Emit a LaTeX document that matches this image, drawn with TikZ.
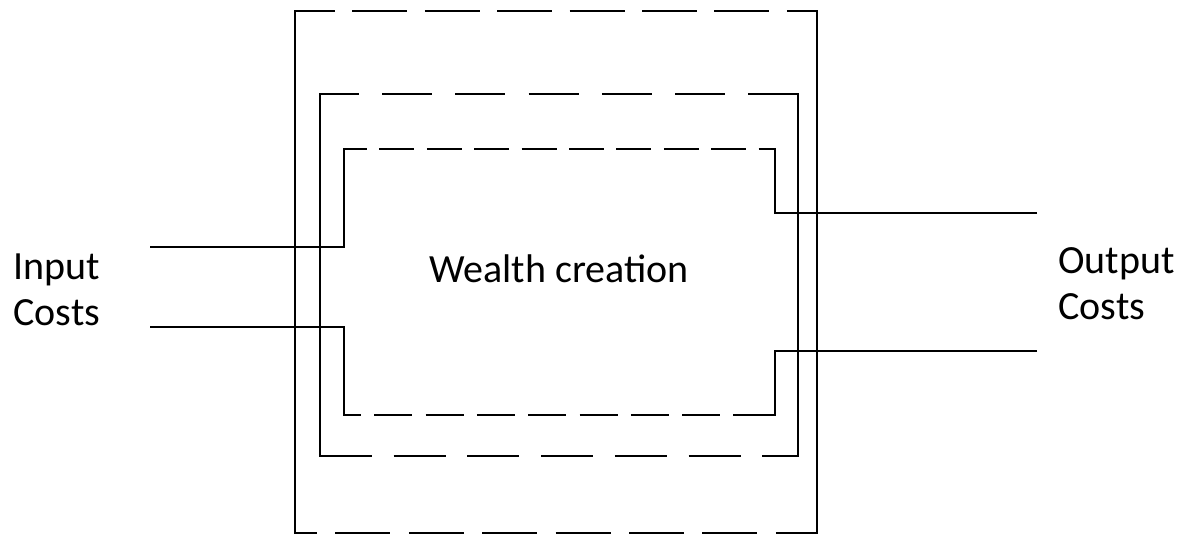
\documentclass[tikz,border=0pt]{standalone}
\usepackage{fontspec}
\setmainfont{Carlito}

\begin{document}
\begin{tikzpicture}[x=1pt,y=-1pt,line width=2.8pt,line join=miter,
    every node/.style={font=\fontsize{40}{46}\selectfont,inner sep=0pt,align=left},
    dashedge/.style n args={3}{dash pattern=on #1pt off #2pt,dash phase=#3pt}]
    \useasboundingbox (0,0) rectangle (1180,535);

    % corners of the three boxes
    \coordinate (otl) at (295,11);   \coordinate (otr) at (817,11);
    \coordinate (obl) at (295,533);  \coordinate (obr) at (817,533);
    \coordinate (mtl) at (320,94);   \coordinate (mtr) at (798,94);
    \coordinate (mbl) at (320,456);  \coordinate (mbr) at (798,456);
    \coordinate (itl) at (344,149);  \coordinate (itr) at (775,149);
    \coordinate (ibl) at (344,415);  \coordinate (ibr) at (775,415);

    % where the cost lines pass through
    \coordinate (inA)  at (150,247);  \coordinate (inAx)  at (344,247);
    \coordinate (inB)  at (150,327);  \coordinate (inBx)  at (344,327);
    \coordinate (outA) at (1037,213); \coordinate (outAx) at (775,213);
    \coordinate (outB) at (1037,351); \coordinate (outBx) at (775,351);

    \node[anchor=north west] (input) at (12,252) {Input\\Costs};
    \node[anchor=north west] (output) at (1057,246) {Output\\Costs};
    \node[anchor=base] (wealth) at (559,282) {Wealth creation};

    % outer box
    \draw[dashedge={55}{17.4}{15}] (otl) -- (otr);
    \draw[dashedge={55}{18.4}{33}] (obl) -- (obr);
    \draw ([xshift=12pt]otl) -- (otl) -- (obl) -- ([xshift=12pt]obl);
    \draw ([xshift=-12pt]otr) -- (otr) -- (obr) -- ([xshift=-12pt]obr);

    % middle box
    \draw[dashedge={50}{23.2}{11}] (mtl) -- (mtr);
    \draw[dashedge={52}{21.7}{0}] (mbl) -- (mbr);
    \draw ([xshift=12pt]mtl) -- (mtl) -- (mbl) -- ([xshift=12pt]mbl);
    \draw ([xshift=-12pt]mtr) -- (mtr) -- (mbr) -- ([xshift=-12pt]mbr);

    % inner box with the cost lines
    \draw[dashedge={35}{12.4}{12}] (itl) -- (itr);
    \draw[dashedge={38}{13.3}{21}] (ibl) -- (ibr);
    \draw (inA) -- (inAx) -- (itl) -- ([xshift=10pt]itl);
    \draw (inB) -- (inBx) -- (ibl) -- ([xshift=10pt]ibl);
    \draw (outA) -- (outAx) -- (itr) -- ([xshift=-10pt]itr);
    \draw (outB) -- (outBx) -- (ibr) -- ([xshift=-10pt]ibr);
\end{tikzpicture}
\end{document}
